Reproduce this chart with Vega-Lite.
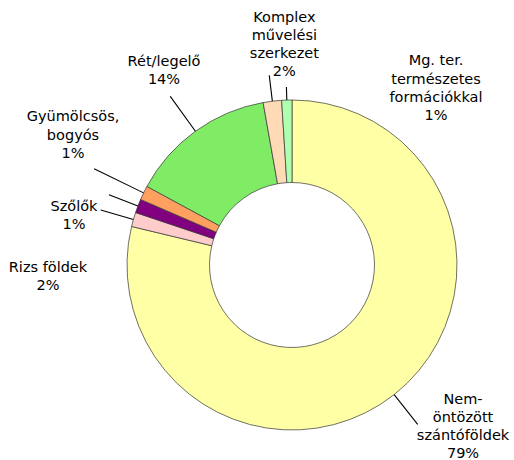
{
  "$schema": "https://vega.github.io/schema/vega-lite/v6.json",
  "width": 360,
  "height": 360,
  "autosize": {"type": "none"},
  "padding": {"left": 112, "top": 85, "right": 42, "bottom": 15},
  "background": "white",
  "config": {"view": {"stroke": null}},
  "data": {
    "values": [
      {"cat": "Nem-öntözött szántóföldek", "order": 1, "share": 78.75, "label": "Nem-\nöntözött\nszántóföldek\n79%"},
      {"cat": "Rizs földek", "order": 2, "share": 1.4, "label": "Rizs földek\n2%"},
      {"cat": "Szőlők", "order": 3, "share": 1.35, "label": "Szőlők\n1%"},
      {"cat": "Gyümölcsös, bogyós", "order": 4, "share": 1.4, "label": "Gyümölcsös,\nbogyós\n1%"},
      {"cat": "Rét/legelő", "order": 5, "share": 14.3, "label": "Rét/legelő\n14%"},
      {"cat": "Komplex művelési szerkezet", "order": 6, "share": 1.8, "label": "Komplex\nművelési\nszerkezet\n2%"},
      {"cat": "Mg. ter. természetes formációkkal", "order": 7, "share": 1.0, "label": "Mg. ter.\ntermészetes\nformációkkal\n1%"}
    ]
  },
  "layer": [
    {
      "mark": {"type": "arc", "outerRadius": 165, "innerRadius": 82.5, "stroke": "#333333", "strokeWidth": 0.7},
      "encoding": {
        "theta": {"field": "share", "type": "quantitative", "stack": true},
        "order": {"field": "order", "type": "quantitative", "sort": "ascending"},
        "color": {
          "field": "cat",
          "type": "nominal",
          "legend": null,
          "scale": {
            "domain": ["Nem-öntözött szántóföldek", "Rizs földek", "Szőlők", "Gyümölcsös, bogyós", "Rét/legelő", "Komplex művelési szerkezet", "Mg. ter. természetes formációkkal"],
            "range": ["#FFFFA6", "#FFCCCC", "#800080", "#FF9F60", "#80EC66", "#FFDAB6", "#B0FFB0"]
          }
        }
      }
    },
    {
      "transform": [
        {"stack": "share", "sort": [{"field": "order", "order": "ascending"}], "groupby": [], "as": ["s0", "s1"]}
      ],
      "mark": {
        "type": "arc",
        "innerRadius": 165,
        "outerRadius": {"expr": "[203,199,196,220,208,191,178][datum.order-1]"},
        "theta": {"expr": "PI*(datum.s0+datum.s1)/100"},
        "theta2": {"expr": "PI*(datum.s0+datum.s1)/100"},
        "stroke": "black",
        "strokeWidth": 1.1,
        "fill": "transparent"
      },
      "encoding": {"detail": {"field": "cat"}}
    },
    {
      "mark": {
        "type": "text",
        "radius": 190,
        "font": "DejaVu Sans",
        "fontSize": 14.5,
        "lineHeight": 18.3,
        "align": "center",
        "baseline": "middle",
        "lineBreak": "\n",
        "fill": "black",
        "dx": {"expr": "[53.4,-61.4,-40.6,-48.1,-16.8,15,150][datum.order-1]"},
        "dy": {"expr": "[-14.7,55.6,10.2,-64.6,-49.1,-58.8,-13.6][datum.order-1]"}
      },
      "encoding": {
        "theta": {"field": "share", "type": "quantitative", "stack": true},
        "order": {"field": "order", "type": "quantitative", "sort": "ascending"},
        "detail": {"field": "cat"},
        "text": {"field": "label"}
      }
    }
  ]
}
